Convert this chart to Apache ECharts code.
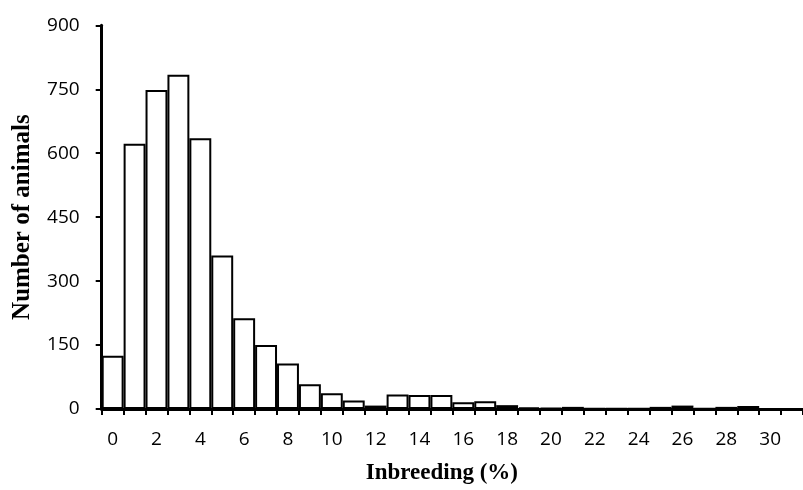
<!DOCTYPE html>
<html>
<head>
<meta charset="utf-8">
<script src="https://cdn.jsdelivr.net/npm/echarts@6/dist/echarts.min.js"></script>
<style>
html,body{margin:0;padding:0;background:#fff;}
#chart{width:803px;height:490px;}
</style>
</head>
<body>
<div id="chart"></div>
<script>
var categories = ['0','1','2','3','4','5','6','7','8','9','10','11','12','13','14','15','16','17','18','19','20','21','22','23','24','25','26','27','28','29','30','31'];
var animalCounts = [125,622,748,784,635,360,213,150,107,58,37,20,8,34,33,33,16,18,9,4,2,5,1,1,1,5,8,1,5,7,0,0];
var yTicks = [0,150,300,450,600,750,900];

var chart = echarts.init(document.getElementById('chart'), null, {renderer:'canvas'});
chart.setOption({
  animation:false,
  backgroundColor:'#ffffff',
  grid:{left:101.7, top:25.3, bottom:80.7, right:-7, containLabel:false},
  xAxis:{
    type:'category',
    data:categories,
    boundaryGap:true,
    name:'Inbreeding (%)',
    nameLocation:'middle',
    nameGap:53,
    nameTextStyle:{fontFamily:'Liberation Serif', fontWeight:'bold', fontSize:23, color:'#000', padding:[0,21,0,0]},
    axisLine:{lineStyle:{color:'#000', width:3}},
    axisTick:{show:true, interval:0, length:6, lineStyle:{color:'#000', width:2}},
    axisLabel:{interval:1, margin:21, fontFamily:'Open Sans', fontSize:19, color:'#000'},
    splitLine:{show:false}
  },
  yAxis:{
    type:'value',
    min:yTicks[0],
    max:yTicks[yTicks.length-1],
    interval:150,
    name:'Number of animals',
    nameLocation:'middle',
    nameGap:67,
    nameRotate:90,
    nameTextStyle:{fontFamily:'Liberation Serif', fontWeight:'bold', fontSize:25, color:'#000'},
    axisLine:{show:true, lineStyle:{color:'#000', width:3}},
    axisTick:{show:true, length:6, lineStyle:{color:'#000', width:2}},
    axisLabel:{margin:22, fontFamily:'Open Sans', fontSize:19, color:'#000'},
    splitLine:{show:false}
  },
  series:[{
    type:'bar',
    data:animalCounts,
    barCategoryGap:'0%',
    itemStyle:{color:'#ffffff', borderColor:'#000000', borderWidth:2}
  }]
});
</script>
</body>
</html>
